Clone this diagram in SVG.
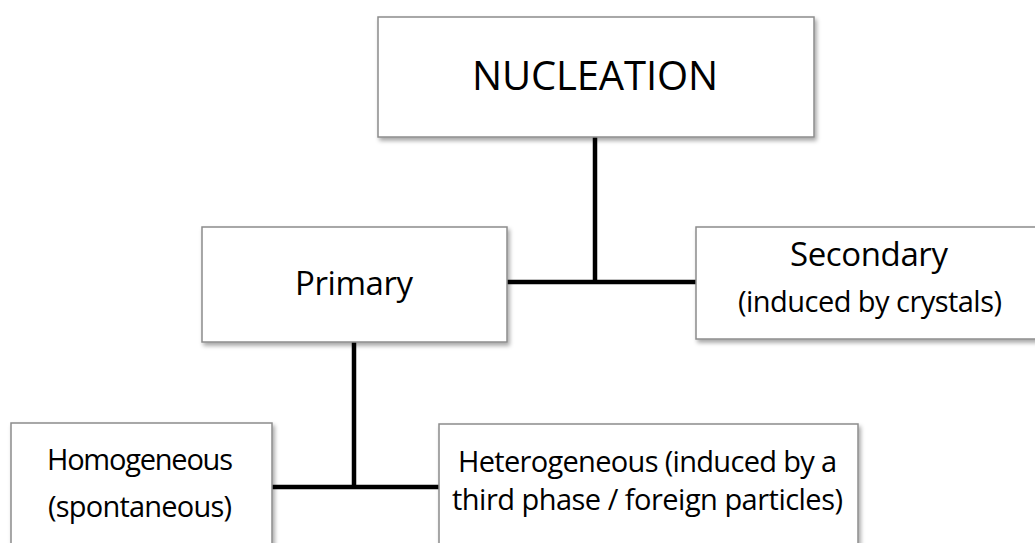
<svg xmlns="http://www.w3.org/2000/svg" width="1035" height="543" viewBox="0 0 1035 543">
  <defs>
    <filter id="shadow" x="-5%" y="-5%" width="115%" height="130%">
      <feDropShadow dx="2" dy="3" stdDeviation="2" flood-color="#000" flood-opacity="0.35"/>
    </filter>
    <style>
      .box { fill: #ffffff; stroke: #8c8c8c; stroke-width: 1.5; filter: url(#shadow); }
      .lbl { font-family: "Open Sans", "Liberation Sans", sans-serif; fill: #000; text-anchor: middle; }
      .conn { stroke: #000; stroke-width: 4.5; fill: none; stroke-linecap: square; }
    </style>
  </defs>
  <rect width="1035" height="543" fill="#ffffff"/>

  <g id="connectors">
    <path class="conn" d="M595 139 V282 M509 282 H694"/>
    <path class="conn" d="M354 344 V487 M274 487 H437"/>
  </g>

  <g id="node-nucleation">
    <rect class="box" x="378" y="17" width="436" height="120"/>
    <text class="lbl" x="595" y="90" font-size="40" textLength="246">NUCLEATION</text>
  </g>

  <g id="node-primary">
    <rect class="box" x="202" y="227" width="305" height="115"/>
    <text class="lbl" x="354" y="295" font-size="33" textLength="118">Primary</text>
  </g>

  <g id="node-secondary">
    <rect class="box" x="696" y="227" width="345" height="112"/>
    <text class="lbl" x="869" y="266" font-size="33" textLength="158">Secondary</text>
    <text class="lbl" x="870" y="312" font-size="29" textLength="264">(induced by crystals)</text>
  </g>

  <g id="node-homogeneous">
    <rect class="box" x="11" y="423" width="261" height="140"/>
    <text class="lbl" x="140" y="470" font-size="29" textLength="186">Homogeneous</text>
    <text class="lbl" x="140" y="517" font-size="29" textLength="184">(spontaneous)</text>
  </g>

  <g id="node-heterogeneous">
    <rect class="box" x="439" y="424" width="419" height="140"/>
    <text class="lbl" x="647.5" y="472" font-size="29" textLength="379">Heterogeneous (induced by a</text>
    <text class="lbl" x="647.5" y="510" font-size="29" textLength="391">third phase / foreign particles)</text>
  </g>
</svg>
